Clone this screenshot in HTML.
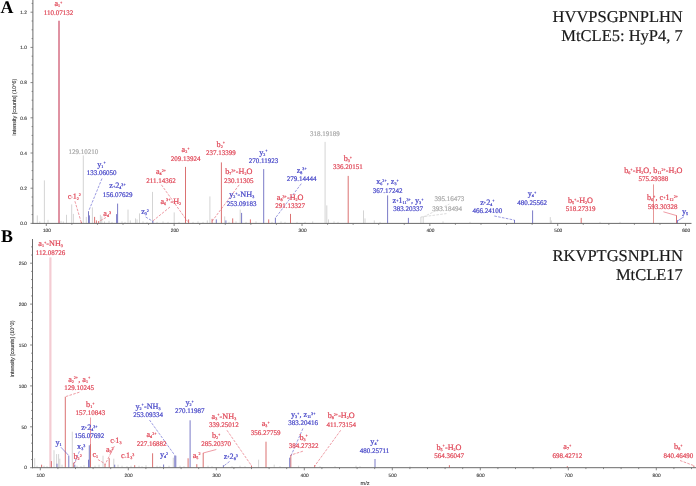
<!DOCTYPE html>
<html><head><meta charset="utf-8"><title>MS/MS spectra</title>
<style>html,body{margin:0;padding:0;background:#fff}body{width:696px;height:486px;overflow:hidden}svg{display:block}text{text-rendering:geometricPrecision;stroke-width:0.22px;font-family:"Liberation Serif",serif;font-size:7px}.s{font-family:"Liberation Sans",sans-serif;font-size:4.8px;fill:#3c3c3c;stroke:#3c3c3c;stroke-width:0.12px}.f{font-size:8.2px}.t{font-size:16.5px;fill:#1a1a1a;stroke:#1a1a1a;stroke-width:0.18px}.b{font-size:17.9px;font-weight:bold;fill:#000}</style>
</head><body>
<svg width="696" height="486" viewBox="0 0 696 486">
<defs><filter id="soft" x="0" y="0" width="696" height="486" filterUnits="userSpaceOnUse"><feGaussianBlur stdDeviation="0.32"/></filter></defs>
<rect x="0" y="0" width="696" height="486" fill="#ffffff"/>
<g filter="url(#soft)">
<g id="panelA">
<line x1="37.3" y1="223.4" x2="37.3" y2="215.4" stroke="#cfcfcf" stroke-width="0.9"/>
<line x1="39.8" y1="223.4" x2="39.8" y2="221.4" stroke="#cfcfcf" stroke-width="0.9"/>
<line x1="44.4" y1="223.4" x2="44.4" y2="180.4" stroke="#cfcfcf" stroke-width="0.9"/>
<line x1="48" y1="223.4" x2="48" y2="219.9" stroke="#cfcfcf" stroke-width="0.9"/>
<line x1="61" y1="223.4" x2="61" y2="220.9" stroke="#cfcfcf" stroke-width="0.9"/>
<line x1="63.3" y1="223.4" x2="63.3" y2="221.4" stroke="#cfcfcf" stroke-width="0.9"/>
<line x1="66.5" y1="223.4" x2="66.5" y2="214.8" stroke="#cfcfcf" stroke-width="0.9"/>
<line x1="71.7" y1="223.4" x2="71.7" y2="204.4" stroke="#cfcfcf" stroke-width="0.9"/>
<line x1="73.4" y1="223.4" x2="73.4" y2="213.9" stroke="#cfcfcf" stroke-width="0.9"/>
<line x1="83.3" y1="223.4" x2="83.3" y2="155.4" stroke="#cfcfcf" stroke-width="0.9"/>
<line x1="86.3" y1="223.4" x2="86.3" y2="216.9" stroke="#cfcfcf" stroke-width="0.9"/>
<line x1="92.4" y1="223.4" x2="92.4" y2="207.4" stroke="#cfcfcf" stroke-width="0.9"/>
<line x1="100.4" y1="223.4" x2="100.4" y2="214.8" stroke="#cfcfcf" stroke-width="0.9"/>
<line x1="101.8" y1="223.4" x2="101.8" y2="216.4" stroke="#cfcfcf" stroke-width="0.9"/>
<line x1="104.5" y1="223.4" x2="104.5" y2="221.4" stroke="#cfcfcf" stroke-width="0.9"/>
<line x1="109" y1="223.4" x2="109" y2="220.9" stroke="#cfcfcf" stroke-width="0.9"/>
<line x1="112" y1="223.4" x2="112" y2="221.9" stroke="#cfcfcf" stroke-width="0.9"/>
<line x1="122" y1="223.4" x2="122" y2="221.4" stroke="#cfcfcf" stroke-width="0.9"/>
<line x1="125" y1="223.4" x2="125" y2="221.9" stroke="#cfcfcf" stroke-width="0.9"/>
<line x1="128" y1="223.4" x2="128" y2="209.6" stroke="#cfcfcf" stroke-width="0.9"/>
<line x1="130.3" y1="223.4" x2="130.3" y2="220.4" stroke="#cfcfcf" stroke-width="0.9"/>
<line x1="135.5" y1="223.4" x2="135.5" y2="218.4" stroke="#cfcfcf" stroke-width="0.9"/>
<line x1="137" y1="223.4" x2="137" y2="219.4" stroke="#cfcfcf" stroke-width="0.9"/>
<line x1="139.5" y1="223.4" x2="139.5" y2="213.4" stroke="#cfcfcf" stroke-width="0.9"/>
<line x1="143" y1="223.4" x2="143" y2="221.4" stroke="#cfcfcf" stroke-width="0.9"/>
<line x1="147" y1="223.4" x2="147" y2="221.9" stroke="#cfcfcf" stroke-width="0.9"/>
<line x1="152.5" y1="223.4" x2="152.5" y2="191.9" stroke="#cfcfcf" stroke-width="0.9"/>
<line x1="157" y1="223.4" x2="157" y2="221.9" stroke="#cfcfcf" stroke-width="0.9"/>
<line x1="163" y1="223.4" x2="163" y2="221.4" stroke="#cfcfcf" stroke-width="0.9"/>
<line x1="168" y1="223.4" x2="168" y2="221.9" stroke="#cfcfcf" stroke-width="0.9"/>
<line x1="174.2" y1="223.4" x2="174.2" y2="212.4" stroke="#cfcfcf" stroke-width="0.9"/>
<line x1="179" y1="223.4" x2="179" y2="221.9" stroke="#cfcfcf" stroke-width="0.9"/>
<line x1="193" y1="223.4" x2="193" y2="221.9" stroke="#cfcfcf" stroke-width="0.9"/>
<line x1="198" y1="223.4" x2="198" y2="221.4" stroke="#cfcfcf" stroke-width="0.9"/>
<line x1="203" y1="223.4" x2="203" y2="221.9" stroke="#cfcfcf" stroke-width="0.9"/>
<line x1="207.3" y1="223.4" x2="207.3" y2="220.4" stroke="#cfcfcf" stroke-width="0.9"/>
<line x1="209.9" y1="223.4" x2="209.9" y2="196.4" stroke="#cfcfcf" stroke-width="0.9"/>
<line x1="224.7" y1="223.4" x2="224.7" y2="216.4" stroke="#cfcfcf" stroke-width="0.9"/>
<line x1="229" y1="223.4" x2="229" y2="221.9" stroke="#cfcfcf" stroke-width="0.9"/>
<line x1="236" y1="223.4" x2="236" y2="221.4" stroke="#cfcfcf" stroke-width="0.9"/>
<line x1="240.2" y1="223.4" x2="240.2" y2="209.6" stroke="#cfcfcf" stroke-width="0.9"/>
<line x1="246" y1="223.4" x2="246" y2="221.9" stroke="#cfcfcf" stroke-width="0.9"/>
<line x1="256" y1="223.4" x2="256" y2="221.4" stroke="#cfcfcf" stroke-width="0.9"/>
<line x1="272" y1="223.4" x2="272" y2="221.9" stroke="#cfcfcf" stroke-width="0.9"/>
<line x1="281" y1="223.4" x2="281" y2="221.4" stroke="#cfcfcf" stroke-width="0.9"/>
<line x1="285" y1="223.4" x2="285" y2="221.9" stroke="#cfcfcf" stroke-width="0.9"/>
<line x1="297" y1="223.4" x2="297" y2="221.9" stroke="#cfcfcf" stroke-width="0.9"/>
<line x1="305" y1="223.4" x2="305" y2="221.9" stroke="#cfcfcf" stroke-width="0.9"/>
<line x1="312.7" y1="223.4" x2="312.7" y2="221.4" stroke="#cfcfcf" stroke-width="0.9"/>
<line x1="325.1" y1="223.4" x2="325.1" y2="141.9" stroke="#cfcfcf" stroke-width="0.9"/>
<line x1="326.8" y1="223.4" x2="326.8" y2="205.4" stroke="#cfcfcf" stroke-width="0.9"/>
<line x1="328.5" y1="223.4" x2="328.5" y2="219.4" stroke="#cfcfcf" stroke-width="0.9"/>
<line x1="334" y1="223.4" x2="334" y2="221.4" stroke="#cfcfcf" stroke-width="0.9"/>
<line x1="338" y1="223.4" x2="338" y2="221.9" stroke="#cfcfcf" stroke-width="0.9"/>
<line x1="363.5" y1="223.4" x2="363.5" y2="210.4" stroke="#cfcfcf" stroke-width="0.9"/>
<line x1="365" y1="223.4" x2="365" y2="218.4" stroke="#cfcfcf" stroke-width="0.9"/>
<line x1="374.3" y1="223.4" x2="374.3" y2="220.4" stroke="#cfcfcf" stroke-width="0.9"/>
<line x1="380" y1="223.4" x2="380" y2="221.9" stroke="#cfcfcf" stroke-width="0.9"/>
<line x1="420.9" y1="223.4" x2="420.9" y2="216.9" stroke="#cfcfcf" stroke-width="0.9"/>
<line x1="423.2" y1="223.4" x2="423.2" y2="217.1" stroke="#cfcfcf" stroke-width="0.9"/>
<line x1="443" y1="223.4" x2="443" y2="221.4" stroke="#cfcfcf" stroke-width="0.9"/>
<line x1="470" y1="223.4" x2="470" y2="221.9" stroke="#cfcfcf" stroke-width="0.9"/>
<line x1="550.3" y1="223.4" x2="550.3" y2="217.1" stroke="#cfcfcf" stroke-width="0.9"/>
<line x1="551.3" y1="223.4" x2="551.3" y2="220.4" stroke="#cfcfcf" stroke-width="0.9"/>
<line x1="600" y1="223.4" x2="600" y2="221.9" stroke="#cfcfcf" stroke-width="0.9"/>
<line x1="620" y1="223.4" x2="620" y2="221.9" stroke="#cfcfcf" stroke-width="0.9"/>
<line x1="59" y1="223.4" x2="59" y2="20.8" stroke="#ebb0bc" stroke-width="1.7"/>
<line x1="59" y1="223.4" x2="59" y2="20.8" stroke="#d26a80" stroke-width="1"/>
<line x1="94.6" y1="223.4" x2="94.6" y2="216.9" stroke="#d96a6a" stroke-width="0.95"/>
<line x1="96.4" y1="223.4" x2="96.4" y2="220.4" stroke="#d96a6a" stroke-width="0.95"/>
<line x1="98.7" y1="223.4" x2="98.7" y2="221.4" stroke="#d96a6a" stroke-width="0.95"/>
<line x1="81.3" y1="223.4" x2="81.3" y2="221.9" stroke="#d96a6a" stroke-width="0.95"/>
<line x1="185.5" y1="223.4" x2="185.5" y2="166.9" stroke="#d96a6a" stroke-width="0.95"/>
<line x1="188.6" y1="223.4" x2="188.6" y2="219.4" stroke="#d96a6a" stroke-width="0.95"/>
<line x1="212.1" y1="223.4" x2="212.1" y2="218.9" stroke="#d96a6a" stroke-width="0.95"/>
<line x1="221.4" y1="223.4" x2="221.4" y2="162.4" stroke="#d96a6a" stroke-width="0.95"/>
<line x1="232.7" y1="223.4" x2="232.7" y2="218.4" stroke="#d96a6a" stroke-width="0.95"/>
<line x1="250.4" y1="223.4" x2="250.4" y2="219.4" stroke="#d96a6a" stroke-width="0.95"/>
<line x1="268.7" y1="223.4" x2="268.7" y2="219.4" stroke="#d96a6a" stroke-width="0.95"/>
<line x1="290.5" y1="223.4" x2="290.5" y2="213.9" stroke="#d96a6a" stroke-width="0.95"/>
<line x1="348.2" y1="223.4" x2="348.2" y2="175.9" stroke="#d96a6a" stroke-width="0.95"/>
<line x1="581.2" y1="223.4" x2="581.2" y2="217.9" stroke="#d96a6a" stroke-width="0.95"/>
<line x1="676.5" y1="223.4" x2="676.5" y2="215.4" stroke="#d96a6a" stroke-width="0.95"/>
<line x1="653.5" y1="223.4" x2="653.5" y2="184.4" stroke="#e07c7c" stroke-width="0.8"/>
<line x1="88.5" y1="223.4" x2="88.5" y2="211.2" stroke="#7474c4" stroke-width="0.95"/>
<line x1="89.4" y1="223.4" x2="89.4" y2="215.4" stroke="#7474c4" stroke-width="0.95"/>
<line x1="116.6" y1="223.4" x2="116.6" y2="214.1" stroke="#7474c4" stroke-width="0.95"/>
<line x1="117.6" y1="223.4" x2="117.6" y2="203.6" stroke="#7474c4" stroke-width="0.95"/>
<line x1="152.9" y1="223.4" x2="152.9" y2="220.9" stroke="#7474c4" stroke-width="0.95"/>
<line x1="216.3" y1="223.4" x2="216.3" y2="219.4" stroke="#7474c4" stroke-width="0.95"/>
<line x1="225.9" y1="223.4" x2="225.9" y2="220.4" stroke="#7474c4" stroke-width="0.95"/>
<line x1="241.6" y1="223.4" x2="241.6" y2="212.9" stroke="#7474c4" stroke-width="0.95"/>
<line x1="263.7" y1="223.4" x2="263.7" y2="169.1" stroke="#7474c4" stroke-width="0.95"/>
<line x1="275.4" y1="223.4" x2="275.4" y2="217.7" stroke="#7474c4" stroke-width="0.95"/>
<line x1="387.6" y1="223.4" x2="387.6" y2="195.4" stroke="#7474c4" stroke-width="0.95"/>
<line x1="408.4" y1="223.4" x2="408.4" y2="217.9" stroke="#7474c4" stroke-width="0.95"/>
<line x1="514.5" y1="223.4" x2="514.5" y2="220" stroke="#7474c4" stroke-width="0.95"/>
<line x1="532.6" y1="223.4" x2="532.6" y2="210.4" stroke="#7474c4" stroke-width="0.95"/>
<line x1="677.4" y1="223.4" x2="677.4" y2="220.1" stroke="#7474c4" stroke-width="0.95"/>
<line x1="32.9" y1="0" x2="32.9" y2="223.9" stroke="#6a6a6a" stroke-width="1"/>
<line x1="32.4" y1="223.4" x2="691.5" y2="223.4" stroke="#6a6a6a" stroke-width="1"/>
<line x1="30.5" y1="223.4" x2="32.9" y2="223.4" stroke="#6a6a6a" stroke-width="0.8"/>
<text class="s" x="26.8" y="225.1" text-anchor="end">0.0</text>
<line x1="31.6" y1="214.6" x2="32.9" y2="214.6" stroke="#6a6a6a" stroke-width="0.8"/>
<line x1="31.6" y1="205.8" x2="32.9" y2="205.8" stroke="#6a6a6a" stroke-width="0.8"/>
<line x1="31.6" y1="197" x2="32.9" y2="197" stroke="#6a6a6a" stroke-width="0.8"/>
<line x1="30.5" y1="188.2" x2="32.9" y2="188.2" stroke="#6a6a6a" stroke-width="0.8"/>
<text class="s" x="26.8" y="189.9" text-anchor="end">0.2</text>
<line x1="31.6" y1="179.4" x2="32.9" y2="179.4" stroke="#6a6a6a" stroke-width="0.8"/>
<line x1="31.6" y1="170.6" x2="32.9" y2="170.6" stroke="#6a6a6a" stroke-width="0.8"/>
<line x1="31.6" y1="161.8" x2="32.9" y2="161.8" stroke="#6a6a6a" stroke-width="0.8"/>
<line x1="30.5" y1="153" x2="32.9" y2="153" stroke="#6a6a6a" stroke-width="0.8"/>
<text class="s" x="26.8" y="154.7" text-anchor="end">0.4</text>
<line x1="31.6" y1="144.2" x2="32.9" y2="144.2" stroke="#6a6a6a" stroke-width="0.8"/>
<line x1="31.6" y1="135.4" x2="32.9" y2="135.4" stroke="#6a6a6a" stroke-width="0.8"/>
<line x1="31.6" y1="126.6" x2="32.9" y2="126.6" stroke="#6a6a6a" stroke-width="0.8"/>
<line x1="30.5" y1="117.8" x2="32.9" y2="117.8" stroke="#6a6a6a" stroke-width="0.8"/>
<text class="s" x="26.8" y="119.5" text-anchor="end">0.6</text>
<line x1="31.6" y1="109" x2="32.9" y2="109" stroke="#6a6a6a" stroke-width="0.8"/>
<line x1="31.6" y1="100.2" x2="32.9" y2="100.2" stroke="#6a6a6a" stroke-width="0.8"/>
<line x1="31.6" y1="91.4" x2="32.9" y2="91.4" stroke="#6a6a6a" stroke-width="0.8"/>
<line x1="30.5" y1="82.6" x2="32.9" y2="82.6" stroke="#6a6a6a" stroke-width="0.8"/>
<text class="s" x="26.8" y="84.3" text-anchor="end">0.8</text>
<line x1="31.6" y1="73.8" x2="32.9" y2="73.8" stroke="#6a6a6a" stroke-width="0.8"/>
<line x1="31.6" y1="65" x2="32.9" y2="65" stroke="#6a6a6a" stroke-width="0.8"/>
<line x1="31.6" y1="56.2" x2="32.9" y2="56.2" stroke="#6a6a6a" stroke-width="0.8"/>
<line x1="30.5" y1="47.4" x2="32.9" y2="47.4" stroke="#6a6a6a" stroke-width="0.8"/>
<text class="s" x="26.8" y="49.1" text-anchor="end">1.0</text>
<line x1="31.6" y1="38.6" x2="32.9" y2="38.6" stroke="#6a6a6a" stroke-width="0.8"/>
<line x1="31.6" y1="29.8" x2="32.9" y2="29.8" stroke="#6a6a6a" stroke-width="0.8"/>
<line x1="31.6" y1="21" x2="32.9" y2="21" stroke="#6a6a6a" stroke-width="0.8"/>
<line x1="30.5" y1="12.2" x2="32.9" y2="12.2" stroke="#6a6a6a" stroke-width="0.8"/>
<text class="s" x="26.8" y="13.9" text-anchor="end">1.2</text>
<line x1="31.6" y1="3.4" x2="32.9" y2="3.4" stroke="#6a6a6a" stroke-width="0.8"/>
<line x1="46.3" y1="223.4" x2="46.3" y2="226" stroke="#6a6a6a" stroke-width="0.8"/>
<text class="s" x="46.9" y="232.3" text-anchor="middle">100</text>
<line x1="71.87" y1="223.4" x2="71.87" y2="224.8" stroke="#6a6a6a" stroke-width="0.8"/>
<line x1="97.44" y1="223.4" x2="97.44" y2="224.8" stroke="#6a6a6a" stroke-width="0.8"/>
<line x1="123.01" y1="223.4" x2="123.01" y2="224.8" stroke="#6a6a6a" stroke-width="0.8"/>
<line x1="148.58" y1="223.4" x2="148.58" y2="224.8" stroke="#6a6a6a" stroke-width="0.8"/>
<line x1="174.15" y1="223.4" x2="174.15" y2="226" stroke="#6a6a6a" stroke-width="0.8"/>
<text class="s" x="174.75" y="232.3" text-anchor="middle">200</text>
<line x1="199.72" y1="223.4" x2="199.72" y2="224.8" stroke="#6a6a6a" stroke-width="0.8"/>
<line x1="225.29" y1="223.4" x2="225.29" y2="224.8" stroke="#6a6a6a" stroke-width="0.8"/>
<line x1="250.86" y1="223.4" x2="250.86" y2="224.8" stroke="#6a6a6a" stroke-width="0.8"/>
<line x1="276.43" y1="223.4" x2="276.43" y2="224.8" stroke="#6a6a6a" stroke-width="0.8"/>
<line x1="302" y1="223.4" x2="302" y2="226" stroke="#6a6a6a" stroke-width="0.8"/>
<text class="s" x="302.6" y="232.3" text-anchor="middle">300</text>
<line x1="327.57" y1="223.4" x2="327.57" y2="224.8" stroke="#6a6a6a" stroke-width="0.8"/>
<line x1="353.14" y1="223.4" x2="353.14" y2="224.8" stroke="#6a6a6a" stroke-width="0.8"/>
<line x1="378.71" y1="223.4" x2="378.71" y2="224.8" stroke="#6a6a6a" stroke-width="0.8"/>
<line x1="404.28" y1="223.4" x2="404.28" y2="224.8" stroke="#6a6a6a" stroke-width="0.8"/>
<line x1="429.85" y1="223.4" x2="429.85" y2="226" stroke="#6a6a6a" stroke-width="0.8"/>
<text class="s" x="430.45" y="232.3" text-anchor="middle">400</text>
<line x1="455.42" y1="223.4" x2="455.42" y2="224.8" stroke="#6a6a6a" stroke-width="0.8"/>
<line x1="480.99" y1="223.4" x2="480.99" y2="224.8" stroke="#6a6a6a" stroke-width="0.8"/>
<line x1="506.56" y1="223.4" x2="506.56" y2="224.8" stroke="#6a6a6a" stroke-width="0.8"/>
<line x1="532.13" y1="223.4" x2="532.13" y2="224.8" stroke="#6a6a6a" stroke-width="0.8"/>
<line x1="557.7" y1="223.4" x2="557.7" y2="226" stroke="#6a6a6a" stroke-width="0.8"/>
<text class="s" x="558.3" y="232.3" text-anchor="middle">500</text>
<line x1="583.27" y1="223.4" x2="583.27" y2="224.8" stroke="#6a6a6a" stroke-width="0.8"/>
<line x1="608.84" y1="223.4" x2="608.84" y2="224.8" stroke="#6a6a6a" stroke-width="0.8"/>
<line x1="634.41" y1="223.4" x2="634.41" y2="224.8" stroke="#6a6a6a" stroke-width="0.8"/>
<line x1="659.98" y1="223.4" x2="659.98" y2="224.8" stroke="#6a6a6a" stroke-width="0.8"/>
<line x1="685.55" y1="223.4" x2="685.55" y2="226" stroke="#6a6a6a" stroke-width="0.8"/>
<text class="s" x="686.15" y="232.3" text-anchor="middle">600</text>
<text class="s" style="font-size:5.4px" transform="translate(15.7,107.3) rotate(-90)" text-anchor="middle">Intensity [counts] (10^6)</text>
<line x1="102" y1="178.5" x2="88.9" y2="210.5" stroke="#4848c8" stroke-width="0.55" stroke-dasharray="2.6 1.3"/>
<line x1="74.9" y1="201.2" x2="81.3" y2="222.5" stroke="#e04a5a" stroke-width="0.55" stroke-dasharray="2.6 1.3"/>
<line x1="106" y1="217.5" x2="98" y2="222" stroke="#e04a5a" stroke-width="0.55" stroke-dasharray="2.6 1.3"/>
<line x1="145.7" y1="217" x2="152.7" y2="221.3" stroke="#4848c8" stroke-width="0.55" stroke-dasharray="2.6 1.3"/>
<line x1="161.4" y1="184.8" x2="187.6" y2="221.5" stroke="#e04a5a" stroke-width="0.55" stroke-dasharray="2.6 1.3"/>
<line x1="170" y1="207" x2="153" y2="220.8" stroke="#e04a5a" stroke-width="0.55" stroke-dasharray="2.6 1.3"/>
<line x1="239.2" y1="184.8" x2="212.1" y2="221.3" stroke="#e04a5a" stroke-width="0.55" stroke-dasharray="2.6 1.3"/>
<line x1="301.3" y1="183.7" x2="275.4" y2="218" stroke="#4848c8" stroke-width="0.55" stroke-dasharray="2.6 1.3"/>
<line x1="423.2" y1="217" x2="449.5" y2="204" stroke="#c0c0c0" stroke-width="0.55" stroke-dasharray="2.6 1.3"/>
<line x1="420.9" y1="217" x2="446.5" y2="213.6" stroke="#c0c0c0" stroke-width="0.55" stroke-dasharray="2.6 1.3"/>
<line x1="494.3" y1="216" x2="514.5" y2="220.1" stroke="#4848c8" stroke-width="0.55" stroke-dasharray="2.6 1.3"/>
<line x1="663.4" y1="211.8" x2="676.6" y2="215.6" stroke="#e04a5a" stroke-width="0.55"/>
<line x1="684" y1="216.7" x2="677.6" y2="220.9" stroke="#4848c8" stroke-width="0.55"/>
<text class="f" x="58.4" y="6.3" fill="#e04a5a" stroke="#e04a5a" text-anchor="middle"><tspan>a</tspan><tspan dy="1" font-size="4.1">1</tspan><tspan dy="-3.4" font-size="4.1">+</tspan></text>
<text x="58.4" y="14.7" fill="#e04a5a" stroke="#e04a5a" text-anchor="middle">110.07132</text>
<text x="83.3" y="153.6" fill="#ababab" stroke="#ababab" text-anchor="middle">129.10210</text>
<text class="f" x="101.5" y="166.6" fill="#4848c8" stroke="#4848c8" text-anchor="middle"><tspan>y</tspan><tspan dy="1" font-size="4.1">1</tspan><tspan dy="-3.4" font-size="4.1">+</tspan></text>
<text x="101.5" y="175" fill="#4848c8" stroke="#4848c8" text-anchor="middle">133.06050</text>
<text class="f" x="117.5" y="188.4" fill="#4848c8" stroke="#4848c8" text-anchor="middle"><tspan>z</tspan><tspan dy="-0.7" font-size="4.1">+</tspan><tspan dy="0.7">2</tspan><tspan dy="1" font-size="4.1">4</tspan><tspan dy="-3.4" font-size="4.1">3+</tspan></text>
<text x="117.5" y="196.8" fill="#4848c8" stroke="#4848c8" text-anchor="middle">156.07629</text>
<text class="f" x="74.3" y="198.6" fill="#e04a5a" stroke="#e04a5a" text-anchor="middle"><tspan>c</tspan><tspan dy="-0.7" font-size="4.1">-</tspan><tspan dy="0.7">1</tspan><tspan dy="1" font-size="4.1">2</tspan><tspan dy="-3.4" font-size="4.1">2</tspan></text>
<text class="f" x="107.2" y="216" fill="#e04a5a" stroke="#e04a5a" text-anchor="middle"><tspan>a</tspan><tspan dy="1" font-size="4.1">4</tspan><tspan dy="-3.4" font-size="4.1">3</tspan></text>
<text class="f" x="145" y="214.3" fill="#4848c8" stroke="#4848c8" text-anchor="middle"><tspan>z</tspan><tspan dy="1" font-size="4.1">3</tspan><tspan dy="-3.4" font-size="4.1">2</tspan></text>
<text class="f" x="161" y="174.1" fill="#e04a5a" stroke="#e04a5a" text-anchor="middle"><tspan>a</tspan><tspan dy="1" font-size="4.1">4</tspan><tspan dy="-3.4" font-size="4.1">2+</tspan></text>
<text x="161" y="182.5" fill="#e04a5a" stroke="#e04a5a" text-anchor="middle">211.14362</text>
<text class="f" x="170.8" y="203.8" fill="#e04a5a" stroke="#e04a5a" text-anchor="middle"><tspan>a</tspan><tspan dy="1" font-size="4.1">6</tspan><tspan dy="-3.4" font-size="4.1">3+</tspan><tspan dy="2.4">-H</tspan><tspan dy="1" font-size="4.1">2</tspan></text>
<text class="f" x="185.5" y="152.1" fill="#e04a5a" stroke="#e04a5a" text-anchor="middle"><tspan>a</tspan><tspan dy="1" font-size="4.1">2</tspan><tspan dy="-3.4" font-size="4.1">+</tspan></text>
<text x="185.5" y="160.5" fill="#e04a5a" stroke="#e04a5a" text-anchor="middle">209.13924</text>
<text class="f" x="220.8" y="146.8" fill="#e04a5a" stroke="#e04a5a" text-anchor="middle"><tspan>b</tspan><tspan dy="1" font-size="4.1">2</tspan><tspan dy="-3.4" font-size="4.1">+</tspan></text>
<text x="220.8" y="155.2" fill="#e04a5a" stroke="#e04a5a" text-anchor="middle">237.13399</text>
<text class="f" x="238.8" y="174.1" fill="#e04a5a" stroke="#e04a5a" text-anchor="middle"><tspan>b</tspan><tspan dy="1" font-size="4.1">7</tspan><tspan dy="-3.4" font-size="4.1">3+</tspan><tspan dy="2.4">-H</tspan><tspan dy="1" font-size="4.1">2</tspan><tspan dy="-1">O</tspan></text>
<text x="238.8" y="182.5" fill="#e04a5a" stroke="#e04a5a" text-anchor="middle">230.11305</text>
<text class="f" x="241.7" y="197.2" fill="#4848c8" stroke="#4848c8" text-anchor="middle"><tspan>y</tspan><tspan dy="1" font-size="4.1">2</tspan><tspan dy="-3.4" font-size="4.1">+</tspan><tspan dy="2.4">-NH</tspan><tspan dy="1" font-size="4.1">3</tspan></text>
<text x="241.7" y="205.6" fill="#4848c8" stroke="#4848c8" text-anchor="middle">253.09183</text>
<text class="f" x="263.4" y="154.6" fill="#4848c8" stroke="#4848c8" text-anchor="middle"><tspan>y</tspan><tspan dy="1" font-size="4.1">2</tspan><tspan dy="-3.4" font-size="4.1">+</tspan></text>
<text x="263.4" y="163" fill="#4848c8" stroke="#4848c8" text-anchor="middle">270.11923</text>
<text class="f" x="301.7" y="172.6" fill="#4848c8" stroke="#4848c8" text-anchor="middle"><tspan>z</tspan><tspan dy="1" font-size="4.1">8</tspan><tspan dy="-3.4" font-size="4.1">3+</tspan></text>
<text x="301.7" y="181" fill="#4848c8" stroke="#4848c8" text-anchor="middle">279.14444</text>
<text class="f" x="290.2" y="200" fill="#e04a5a" stroke="#e04a5a" text-anchor="middle"><tspan>a</tspan><tspan dy="1" font-size="4.1">8</tspan><tspan dy="-3.4" font-size="4.1">3+</tspan><tspan dy="2.4">-H</tspan><tspan dy="1" font-size="4.1">2</tspan><tspan dy="-1">O</tspan></text>
<text x="290.2" y="208.4" fill="#e04a5a" stroke="#e04a5a" text-anchor="middle">291.13327</text>
<text x="324.9" y="135.7" fill="#ababab" stroke="#ababab" text-anchor="middle">318.19189</text>
<text class="f" x="347.9" y="160.9" fill="#e04a5a" stroke="#e04a5a" text-anchor="middle"><tspan>b</tspan><tspan dy="1" font-size="4.1">3</tspan><tspan dy="-3.4" font-size="4.1">+</tspan></text>
<text x="347.9" y="169.3" fill="#e04a5a" stroke="#e04a5a" text-anchor="middle">336.20151</text>
<text class="f" x="387.5" y="184.3" fill="#4848c8" stroke="#4848c8" text-anchor="middle"><tspan>x</tspan><tspan dy="1" font-size="4.1">6</tspan><tspan dy="-3.4" font-size="4.1">2+</tspan><tspan dy="2.4">, z</tspan><tspan dy="1" font-size="4.1">3</tspan><tspan dy="-3.4" font-size="4.1">+</tspan></text>
<text x="387.5" y="192.7" fill="#4848c8" stroke="#4848c8" text-anchor="middle">367.17242</text>
<text class="f" x="408" y="203" fill="#4848c8" stroke="#4848c8" text-anchor="middle"><tspan>z</tspan><tspan dy="-0.7" font-size="4.1">+</tspan><tspan dy="0.7">1</tspan><tspan dy="1" font-size="4.1">11</tspan><tspan dy="-3.4" font-size="4.1">3+</tspan><tspan dy="2.4">, y</tspan><tspan dy="1" font-size="4.1">3</tspan><tspan dy="-3.4" font-size="4.1">+</tspan></text>
<text x="408" y="211.4" fill="#4848c8" stroke="#4848c8" text-anchor="middle">383.20337</text>
<text x="449.4" y="200.5" fill="#ababab" stroke="#ababab" text-anchor="middle">395.16473</text>
<text x="447" y="210.8" fill="#ababab" stroke="#ababab" text-anchor="middle">393.18494</text>
<text class="f" x="487.4" y="204.5" fill="#4848c8" stroke="#4848c8" text-anchor="middle"><tspan>z</tspan><tspan dy="-0.7" font-size="4.1">+</tspan><tspan dy="0.7">2</tspan><tspan dy="1" font-size="4.1">4</tspan><tspan dy="-3.4" font-size="4.1">+</tspan></text>
<text x="487.4" y="212.9" fill="#4848c8" stroke="#4848c8" text-anchor="middle">466.24100</text>
<text class="f" x="532" y="196.4" fill="#4848c8" stroke="#4848c8" text-anchor="middle"><tspan>y</tspan><tspan dy="1" font-size="4.1">4</tspan><tspan dy="-3.4" font-size="4.1">+</tspan></text>
<text x="532" y="204.8" fill="#4848c8" stroke="#4848c8" text-anchor="middle">480.25562</text>
<text class="f" x="580.5" y="203" fill="#e04a5a" stroke="#e04a5a" text-anchor="middle"><tspan>b</tspan><tspan dy="1" font-size="4.1">5</tspan><tspan dy="-3.4" font-size="4.1">+</tspan><tspan dy="2.4">-H</tspan><tspan dy="1" font-size="4.1">2</tspan><tspan dy="-1">O</tspan></text>
<text x="580.5" y="211.4" fill="#e04a5a" stroke="#e04a5a" text-anchor="middle">518.27319</text>
<text class="f" x="653.3" y="172.9" fill="#e04a5a" stroke="#e04a5a" text-anchor="middle"><tspan>b</tspan><tspan dy="1" font-size="4.1">6</tspan><tspan dy="-3.4" font-size="4.1">+</tspan><tspan dy="2.4">-H</tspan><tspan dy="1" font-size="4.1">2</tspan><tspan dy="-1">O, b</tspan><tspan dy="1" font-size="4.1">11</tspan><tspan dy="-3.4" font-size="4.1">2+</tspan><tspan dy="2.4">-H</tspan><tspan dy="1" font-size="4.1">2</tspan><tspan dy="-1">O</tspan></text>
<text x="653.3" y="181.3" fill="#e04a5a" stroke="#e04a5a" text-anchor="middle">575.29388</text>
<text class="f" x="662.5" y="200.1" fill="#e04a5a" stroke="#e04a5a" text-anchor="middle"><tspan>b</tspan><tspan dy="1" font-size="4.1">6</tspan><tspan dy="-3.4" font-size="4.1">+</tspan><tspan dy="2.4">, c</tspan><tspan dy="-0.7" font-size="4.1">+</tspan><tspan dy="0.7">1</tspan><tspan dy="1" font-size="4.1">12</tspan><tspan dy="-3.4" font-size="4.1">2+</tspan></text>
<text x="662.5" y="208.5" fill="#e04a5a" stroke="#e04a5a" text-anchor="middle">593.30328</text>
<text class="f" x="685" y="213.5" fill="#4848c8" stroke="#4848c8" text-anchor="middle"><tspan>y</tspan><tspan dy="1" font-size="4.1">5</tspan></text>
<text class="b" x="0.6" y="13.0">A</text>
<text class="t" x="682.8" y="22.2" text-anchor="end">HVVPSGPNPLHN</text>
<text class="t" x="682.8" y="41" text-anchor="end">MtCLE5: HyP4, 7</text>
</g>
<g id="panelB">
<line x1="34.7" y1="467.7" x2="34.7" y2="458.2" stroke="#cfcfcf" stroke-width="0.9"/>
<line x1="37" y1="467.7" x2="37" y2="465.7" stroke="#cfcfcf" stroke-width="0.9"/>
<line x1="44" y1="467.7" x2="44" y2="465.7" stroke="#cfcfcf" stroke-width="0.9"/>
<line x1="47" y1="467.7" x2="47" y2="466.2" stroke="#cfcfcf" stroke-width="0.9"/>
<line x1="54" y1="467.7" x2="54" y2="450.2" stroke="#cfcfcf" stroke-width="0.9"/>
<line x1="56.6" y1="467.7" x2="56.6" y2="454.1" stroke="#cfcfcf" stroke-width="0.9"/>
<line x1="58.6" y1="467.7" x2="58.6" y2="454.1" stroke="#cfcfcf" stroke-width="0.9"/>
<line x1="59.8" y1="467.7" x2="59.8" y2="458.7" stroke="#cfcfcf" stroke-width="0.9"/>
<line x1="62" y1="467.7" x2="62" y2="464.7" stroke="#cfcfcf" stroke-width="0.9"/>
<line x1="72.3" y1="467.7" x2="72.3" y2="431.7" stroke="#cfcfcf" stroke-width="0.9"/>
<line x1="77" y1="467.7" x2="77" y2="465.7" stroke="#cfcfcf" stroke-width="0.9"/>
<line x1="81" y1="467.7" x2="81" y2="466.2" stroke="#cfcfcf" stroke-width="0.9"/>
<line x1="84" y1="467.7" x2="84" y2="465.2" stroke="#cfcfcf" stroke-width="0.9"/>
<line x1="95" y1="467.7" x2="95" y2="465.7" stroke="#cfcfcf" stroke-width="0.9"/>
<line x1="99" y1="467.7" x2="99" y2="464.7" stroke="#cfcfcf" stroke-width="0.9"/>
<line x1="103" y1="467.7" x2="103" y2="455.7" stroke="#cfcfcf" stroke-width="0.9"/>
<line x1="113.8" y1="467.7" x2="113.8" y2="458.7" stroke="#cfcfcf" stroke-width="0.9"/>
<line x1="118" y1="467.7" x2="118" y2="464.7" stroke="#cfcfcf" stroke-width="0.9"/>
<line x1="122" y1="467.7" x2="122" y2="465.7" stroke="#cfcfcf" stroke-width="0.9"/>
<line x1="127" y1="467.7" x2="127" y2="466.2" stroke="#cfcfcf" stroke-width="0.9"/>
<line x1="131" y1="467.7" x2="131" y2="465.7" stroke="#cfcfcf" stroke-width="0.9"/>
<line x1="139" y1="467.7" x2="139" y2="465.7" stroke="#cfcfcf" stroke-width="0.9"/>
<line x1="142" y1="467.7" x2="142" y2="466.2" stroke="#cfcfcf" stroke-width="0.9"/>
<line x1="146" y1="467.7" x2="146" y2="465.2" stroke="#cfcfcf" stroke-width="0.9"/>
<line x1="157" y1="467.7" x2="157" y2="465.7" stroke="#cfcfcf" stroke-width="0.9"/>
<line x1="160" y1="467.7" x2="160" y2="466.2" stroke="#cfcfcf" stroke-width="0.9"/>
<line x1="169" y1="467.7" x2="169" y2="465.7" stroke="#cfcfcf" stroke-width="0.9"/>
<line x1="173.3" y1="467.7" x2="173.3" y2="457.7" stroke="#cfcfcf" stroke-width="0.9"/>
<line x1="180" y1="467.7" x2="180" y2="465.7" stroke="#cfcfcf" stroke-width="0.9"/>
<line x1="184" y1="467.7" x2="184" y2="466.2" stroke="#cfcfcf" stroke-width="0.9"/>
<line x1="208" y1="467.7" x2="208" y2="465.7" stroke="#cfcfcf" stroke-width="0.9"/>
<line x1="212" y1="467.7" x2="212" y2="466.2" stroke="#cfcfcf" stroke-width="0.9"/>
<line x1="232" y1="467.7" x2="232" y2="466.2" stroke="#cfcfcf" stroke-width="0.9"/>
<line x1="240" y1="467.7" x2="240" y2="465.7" stroke="#cfcfcf" stroke-width="0.9"/>
<line x1="245" y1="467.7" x2="245" y2="466.2" stroke="#cfcfcf" stroke-width="0.9"/>
<line x1="258.6" y1="467.7" x2="258.6" y2="459.7" stroke="#cfcfcf" stroke-width="0.9"/>
<line x1="274.2" y1="467.7" x2="274.2" y2="464.7" stroke="#cfcfcf" stroke-width="0.9"/>
<line x1="280" y1="467.7" x2="280" y2="466.2" stroke="#cfcfcf" stroke-width="0.9"/>
<line x1="298.6" y1="467.7" x2="298.6" y2="465.7" stroke="#cfcfcf" stroke-width="0.9"/>
<line x1="320" y1="467.7" x2="320" y2="466.2" stroke="#cfcfcf" stroke-width="0.9"/>
<line x1="335" y1="467.7" x2="335" y2="466.2" stroke="#cfcfcf" stroke-width="0.9"/>
<line x1="356" y1="467.7" x2="356" y2="465.7" stroke="#cfcfcf" stroke-width="0.9"/>
<line x1="360" y1="467.7" x2="360" y2="466.2" stroke="#cfcfcf" stroke-width="0.9"/>
<line x1="410" y1="467.7" x2="410" y2="466.5" stroke="#cfcfcf" stroke-width="0.9"/>
<line x1="50.4" y1="467.7" x2="50.4" y2="257.4" stroke="#f4ccd3" stroke-width="2.2"/>
<line x1="51.4" y1="467.7" x2="51.4" y2="461.1" stroke="#d96a6a" stroke-width="0.95"/>
<line x1="41.6" y1="467.7" x2="41.6" y2="464.7" stroke="#d96a6a" stroke-width="0.95"/>
<line x1="65.3" y1="467.7" x2="65.3" y2="396.7" stroke="#d96a6a" stroke-width="0.95"/>
<line x1="73.7" y1="467.7" x2="73.7" y2="462.7" stroke="#d96a6a" stroke-width="0.95"/>
<line x1="90.5" y1="467.7" x2="90.5" y2="443.7" stroke="#d96a6a" stroke-width="0.95"/>
<line x1="105" y1="467.7" x2="105" y2="464.2" stroke="#d96a6a" stroke-width="0.95"/>
<line x1="109.2" y1="467.7" x2="109.2" y2="458.2" stroke="#d96a6a" stroke-width="0.95"/>
<line x1="134.7" y1="467.7" x2="134.7" y2="465.2" stroke="#d96a6a" stroke-width="0.95"/>
<line x1="152.6" y1="467.7" x2="152.6" y2="453.3" stroke="#d96a6a" stroke-width="0.95"/>
<line x1="188.1" y1="467.7" x2="188.1" y2="458.3" stroke="#d96a6a" stroke-width="0.95"/>
<line x1="196.8" y1="467.7" x2="196.8" y2="464.2" stroke="#d96a6a" stroke-width="0.95"/>
<line x1="203.2" y1="467.7" x2="203.2" y2="452.9" stroke="#d96a6a" stroke-width="0.95"/>
<line x1="251.5" y1="467.7" x2="251.5" y2="465.7" stroke="#d96a6a" stroke-width="0.95"/>
<line x1="266" y1="467.7" x2="266" y2="441.7" stroke="#d96a6a" stroke-width="0.95"/>
<line x1="290.8" y1="467.7" x2="290.8" y2="454.9" stroke="#d96a6a" stroke-width="0.95"/>
<line x1="314.7" y1="467.7" x2="314.7" y2="465.2" stroke="#d96a6a" stroke-width="0.95"/>
<line x1="449.4" y1="467.7" x2="449.4" y2="465.2" stroke="#d96a6a" stroke-width="0.95"/>
<line x1="567.3" y1="467.7" x2="567.3" y2="466.2" stroke="#d96a6a" stroke-width="0.95"/>
<line x1="693.9" y1="467.7" x2="693.9" y2="465.7" stroke="#d96a6a" stroke-width="0.95"/>
<line x1="57" y1="467.7" x2="57" y2="463.7" stroke="#7474c4" stroke-width="0.95"/>
<line x1="68.8" y1="467.7" x2="68.8" y2="455.9" stroke="#7474c4" stroke-width="0.95"/>
<line x1="74.8" y1="467.7" x2="74.8" y2="464.7" stroke="#7474c4" stroke-width="0.95"/>
<line x1="89.3" y1="467.7" x2="89.3" y2="445.3" stroke="#7474c4" stroke-width="0.95"/>
<line x1="88.5" y1="467.7" x2="88.5" y2="459.7" stroke="#7474c4" stroke-width="0.95"/>
<line x1="114.7" y1="467.7" x2="114.7" y2="464.7" stroke="#7474c4" stroke-width="0.95"/>
<line x1="163.6" y1="467.7" x2="163.6" y2="464.5" stroke="#7474c4" stroke-width="0.95"/>
<line x1="174.8" y1="467.7" x2="174.8" y2="455.7" stroke="#7474c4" stroke-width="0.95"/>
<line x1="175.8" y1="467.7" x2="175.8" y2="455.7" stroke="#7474c4" stroke-width="0.95"/>
<line x1="190.1" y1="467.7" x2="190.1" y2="420.3" stroke="#7474c4" stroke-width="0.95"/>
<line x1="223.4" y1="467.7" x2="223.4" y2="465.2" stroke="#7474c4" stroke-width="0.95"/>
<line x1="289.7" y1="467.7" x2="289.7" y2="457.7" stroke="#7474c4" stroke-width="0.95"/>
<line x1="375" y1="467.7" x2="375" y2="459" stroke="#7474c4" stroke-width="0.95"/>
<line x1="32.5" y1="239" x2="32.5" y2="468.2" stroke="#6a6a6a" stroke-width="1"/>
<line x1="32" y1="467.7" x2="696" y2="467.7" stroke="#6a6a6a" stroke-width="1"/>
<line x1="30.1" y1="467.7" x2="32.5" y2="467.7" stroke="#6a6a6a" stroke-width="0.8"/>
<text class="s" x="26.8" y="469.4" text-anchor="end">0</text>
<line x1="31.2" y1="459.52" x2="32.5" y2="459.52" stroke="#6a6a6a" stroke-width="0.8"/>
<line x1="31.2" y1="451.34" x2="32.5" y2="451.34" stroke="#6a6a6a" stroke-width="0.8"/>
<line x1="31.2" y1="443.16" x2="32.5" y2="443.16" stroke="#6a6a6a" stroke-width="0.8"/>
<line x1="31.2" y1="434.98" x2="32.5" y2="434.98" stroke="#6a6a6a" stroke-width="0.8"/>
<line x1="30.1" y1="426.8" x2="32.5" y2="426.8" stroke="#6a6a6a" stroke-width="0.8"/>
<text class="s" x="26.8" y="428.5" text-anchor="end">50</text>
<line x1="31.2" y1="418.62" x2="32.5" y2="418.62" stroke="#6a6a6a" stroke-width="0.8"/>
<line x1="31.2" y1="410.44" x2="32.5" y2="410.44" stroke="#6a6a6a" stroke-width="0.8"/>
<line x1="31.2" y1="402.26" x2="32.5" y2="402.26" stroke="#6a6a6a" stroke-width="0.8"/>
<line x1="31.2" y1="394.08" x2="32.5" y2="394.08" stroke="#6a6a6a" stroke-width="0.8"/>
<line x1="30.1" y1="385.9" x2="32.5" y2="385.9" stroke="#6a6a6a" stroke-width="0.8"/>
<text class="s" x="26.8" y="387.6" text-anchor="end">100</text>
<line x1="31.2" y1="377.72" x2="32.5" y2="377.72" stroke="#6a6a6a" stroke-width="0.8"/>
<line x1="31.2" y1="369.54" x2="32.5" y2="369.54" stroke="#6a6a6a" stroke-width="0.8"/>
<line x1="31.2" y1="361.36" x2="32.5" y2="361.36" stroke="#6a6a6a" stroke-width="0.8"/>
<line x1="31.2" y1="353.18" x2="32.5" y2="353.18" stroke="#6a6a6a" stroke-width="0.8"/>
<line x1="30.1" y1="345" x2="32.5" y2="345" stroke="#6a6a6a" stroke-width="0.8"/>
<text class="s" x="26.8" y="346.7" text-anchor="end">150</text>
<line x1="31.2" y1="336.82" x2="32.5" y2="336.82" stroke="#6a6a6a" stroke-width="0.8"/>
<line x1="31.2" y1="328.64" x2="32.5" y2="328.64" stroke="#6a6a6a" stroke-width="0.8"/>
<line x1="31.2" y1="320.46" x2="32.5" y2="320.46" stroke="#6a6a6a" stroke-width="0.8"/>
<line x1="31.2" y1="312.28" x2="32.5" y2="312.28" stroke="#6a6a6a" stroke-width="0.8"/>
<line x1="30.1" y1="304.1" x2="32.5" y2="304.1" stroke="#6a6a6a" stroke-width="0.8"/>
<text class="s" x="26.8" y="305.8" text-anchor="end">200</text>
<line x1="31.2" y1="295.92" x2="32.5" y2="295.92" stroke="#6a6a6a" stroke-width="0.8"/>
<line x1="31.2" y1="287.74" x2="32.5" y2="287.74" stroke="#6a6a6a" stroke-width="0.8"/>
<line x1="31.2" y1="279.56" x2="32.5" y2="279.56" stroke="#6a6a6a" stroke-width="0.8"/>
<line x1="31.2" y1="271.38" x2="32.5" y2="271.38" stroke="#6a6a6a" stroke-width="0.8"/>
<line x1="30.1" y1="263.2" x2="32.5" y2="263.2" stroke="#6a6a6a" stroke-width="0.8"/>
<text class="s" x="26.8" y="264.9" text-anchor="end">250</text>
<line x1="31.2" y1="255.02" x2="32.5" y2="255.02" stroke="#6a6a6a" stroke-width="0.8"/>
<line x1="31.2" y1="246.84" x2="32.5" y2="246.84" stroke="#6a6a6a" stroke-width="0.8"/>
<line x1="40.3" y1="467.7" x2="40.3" y2="470.3" stroke="#6a6a6a" stroke-width="0.8"/>
<text class="s" x="40.6" y="477" text-anchor="middle">100</text>
<line x1="57.9" y1="467.7" x2="57.9" y2="469.1" stroke="#6a6a6a" stroke-width="0.8"/>
<line x1="75.5" y1="467.7" x2="75.5" y2="469.1" stroke="#6a6a6a" stroke-width="0.8"/>
<line x1="93.1" y1="467.7" x2="93.1" y2="469.1" stroke="#6a6a6a" stroke-width="0.8"/>
<line x1="110.7" y1="467.7" x2="110.7" y2="469.1" stroke="#6a6a6a" stroke-width="0.8"/>
<line x1="128.3" y1="467.7" x2="128.3" y2="470.3" stroke="#6a6a6a" stroke-width="0.8"/>
<text class="s" x="128.6" y="477" text-anchor="middle">200</text>
<line x1="145.9" y1="467.7" x2="145.9" y2="469.1" stroke="#6a6a6a" stroke-width="0.8"/>
<line x1="163.5" y1="467.7" x2="163.5" y2="469.1" stroke="#6a6a6a" stroke-width="0.8"/>
<line x1="181.1" y1="467.7" x2="181.1" y2="469.1" stroke="#6a6a6a" stroke-width="0.8"/>
<line x1="198.7" y1="467.7" x2="198.7" y2="469.1" stroke="#6a6a6a" stroke-width="0.8"/>
<line x1="216.3" y1="467.7" x2="216.3" y2="470.3" stroke="#6a6a6a" stroke-width="0.8"/>
<text class="s" x="216.6" y="477" text-anchor="middle">300</text>
<line x1="233.9" y1="467.7" x2="233.9" y2="469.1" stroke="#6a6a6a" stroke-width="0.8"/>
<line x1="251.5" y1="467.7" x2="251.5" y2="469.1" stroke="#6a6a6a" stroke-width="0.8"/>
<line x1="269.1" y1="467.7" x2="269.1" y2="469.1" stroke="#6a6a6a" stroke-width="0.8"/>
<line x1="286.7" y1="467.7" x2="286.7" y2="469.1" stroke="#6a6a6a" stroke-width="0.8"/>
<line x1="304.3" y1="467.7" x2="304.3" y2="470.3" stroke="#6a6a6a" stroke-width="0.8"/>
<text class="s" x="304.6" y="477" text-anchor="middle">400</text>
<line x1="321.9" y1="467.7" x2="321.9" y2="469.1" stroke="#6a6a6a" stroke-width="0.8"/>
<line x1="339.5" y1="467.7" x2="339.5" y2="469.1" stroke="#6a6a6a" stroke-width="0.8"/>
<line x1="357.1" y1="467.7" x2="357.1" y2="469.1" stroke="#6a6a6a" stroke-width="0.8"/>
<line x1="374.7" y1="467.7" x2="374.7" y2="469.1" stroke="#6a6a6a" stroke-width="0.8"/>
<line x1="392.3" y1="467.7" x2="392.3" y2="470.3" stroke="#6a6a6a" stroke-width="0.8"/>
<text class="s" x="392.6" y="477" text-anchor="middle">500</text>
<line x1="409.9" y1="467.7" x2="409.9" y2="469.1" stroke="#6a6a6a" stroke-width="0.8"/>
<line x1="427.5" y1="467.7" x2="427.5" y2="469.1" stroke="#6a6a6a" stroke-width="0.8"/>
<line x1="445.1" y1="467.7" x2="445.1" y2="469.1" stroke="#6a6a6a" stroke-width="0.8"/>
<line x1="462.7" y1="467.7" x2="462.7" y2="469.1" stroke="#6a6a6a" stroke-width="0.8"/>
<line x1="480.3" y1="467.7" x2="480.3" y2="470.3" stroke="#6a6a6a" stroke-width="0.8"/>
<text class="s" x="480.6" y="477" text-anchor="middle">600</text>
<line x1="497.9" y1="467.7" x2="497.9" y2="469.1" stroke="#6a6a6a" stroke-width="0.8"/>
<line x1="515.5" y1="467.7" x2="515.5" y2="469.1" stroke="#6a6a6a" stroke-width="0.8"/>
<line x1="533.1" y1="467.7" x2="533.1" y2="469.1" stroke="#6a6a6a" stroke-width="0.8"/>
<line x1="550.7" y1="467.7" x2="550.7" y2="469.1" stroke="#6a6a6a" stroke-width="0.8"/>
<line x1="568.3" y1="467.7" x2="568.3" y2="470.3" stroke="#6a6a6a" stroke-width="0.8"/>
<text class="s" x="568.6" y="477" text-anchor="middle">700</text>
<line x1="585.9" y1="467.7" x2="585.9" y2="469.1" stroke="#6a6a6a" stroke-width="0.8"/>
<line x1="603.5" y1="467.7" x2="603.5" y2="469.1" stroke="#6a6a6a" stroke-width="0.8"/>
<line x1="621.1" y1="467.7" x2="621.1" y2="469.1" stroke="#6a6a6a" stroke-width="0.8"/>
<line x1="638.7" y1="467.7" x2="638.7" y2="469.1" stroke="#6a6a6a" stroke-width="0.8"/>
<line x1="656.3" y1="467.7" x2="656.3" y2="470.3" stroke="#6a6a6a" stroke-width="0.8"/>
<text class="s" x="656.6" y="477" text-anchor="middle">800</text>
<line x1="673.9" y1="467.7" x2="673.9" y2="469.1" stroke="#6a6a6a" stroke-width="0.8"/>
<line x1="691.5" y1="467.7" x2="691.5" y2="469.1" stroke="#6a6a6a" stroke-width="0.8"/>
<text class="s" style="font-size:5.6px" x="365" y="484.9" text-anchor="middle">m/z</text>
<text class="s" style="font-size:5.4px" transform="translate(13.9,348.9) rotate(-90)" text-anchor="middle">Intensity [counts] (10^3)</text>
<line x1="79.4" y1="392.2" x2="66" y2="396.5" stroke="#e04a5a" stroke-width="0.55" stroke-dasharray="2.6 1.3"/>
<line x1="90.5" y1="417.5" x2="90.5" y2="443.7" stroke="#e04a5a" stroke-width="0.55"/>
<line x1="60.9" y1="447.2" x2="68.8" y2="455.6" stroke="#4848c8" stroke-width="0.55"/>
<line x1="79.4" y1="451.3" x2="74.2" y2="463.6" stroke="#4848c8" stroke-width="0.55" stroke-dasharray="2.6 1.3"/>
<line x1="76.3" y1="461" x2="73.9" y2="463" stroke="#e04a5a" stroke-width="0.55"/>
<line x1="97.9" y1="459.5" x2="105.1" y2="463.8" stroke="#e04a5a" stroke-width="0.55" stroke-dasharray="2.6 1.3"/>
<line x1="114.4" y1="446.1" x2="104.8" y2="465" stroke="#e04a5a" stroke-width="0.55" stroke-dasharray="2.6 1.3"/>
<line x1="149.5" y1="420" x2="175" y2="455.6" stroke="#4848c8" stroke-width="0.55" stroke-dasharray="2.6 1.3"/>
<line x1="227" y1="430.3" x2="251.7" y2="466" stroke="#e04a5a" stroke-width="0.55" stroke-dasharray="2.6 1.3"/>
<line x1="216.3" y1="449.5" x2="203.2" y2="453" stroke="#e04a5a" stroke-width="0.55"/>
<line x1="229.5" y1="461.5" x2="223.7" y2="466" stroke="#4848c8" stroke-width="0.55" stroke-dasharray="2.6 1.3"/>
<line x1="302.9" y1="428.5" x2="291" y2="455.8" stroke="#4848c8" stroke-width="0.55" stroke-dasharray="2.6 1.3"/>
<line x1="302.9" y1="451.2" x2="291" y2="455" stroke="#e04a5a" stroke-width="0.55" stroke-dasharray="2.6 1.3"/>
<line x1="340.7" y1="430.3" x2="314.7" y2="466" stroke="#e04a5a" stroke-width="0.55" stroke-dasharray="2.6 1.3"/>
<line x1="680" y1="460.5" x2="693.5" y2="465.5" stroke="#e04a5a" stroke-width="0.55" stroke-dasharray="2.6 1.3"/>
<text class="f" x="50.6" y="246.4" fill="#e04a5a" stroke="#e04a5a" text-anchor="middle"><tspan>a</tspan><tspan dy="1" font-size="4.1">1</tspan><tspan dy="-3.4" font-size="4.1">+</tspan><tspan dy="2.4">-NH</tspan><tspan dy="1" font-size="4.1">3</tspan></text>
<text x="50.6" y="254.8" fill="#e04a5a" stroke="#e04a5a" text-anchor="middle">112.08726</text>
<text class="f" x="79.2" y="381.6" fill="#e04a5a" stroke="#e04a5a" text-anchor="middle"><tspan>a</tspan><tspan dy="1" font-size="4.1">2</tspan><tspan dy="-3.4" font-size="4.1">2+</tspan><tspan dy="2.4">, a</tspan><tspan dy="1" font-size="4.1">1</tspan><tspan dy="-3.4" font-size="4.1">+</tspan></text>
<text x="79.2" y="390" fill="#e04a5a" stroke="#e04a5a" text-anchor="middle">129.10245</text>
<text class="f" x="90.3" y="406.9" fill="#e04a5a" stroke="#e04a5a" text-anchor="middle"><tspan>b</tspan><tspan dy="1" font-size="4.1">1</tspan><tspan dy="-3.4" font-size="4.1">+</tspan></text>
<text x="90.3" y="415.3" fill="#e04a5a" stroke="#e04a5a" text-anchor="middle">157.10843</text>
<text class="f" x="89.4" y="429.9" fill="#4848c8" stroke="#4848c8" text-anchor="middle"><tspan>z</tspan><tspan dy="-0.7" font-size="4.1">+</tspan><tspan dy="0.7">2</tspan><tspan dy="1" font-size="4.1">4</tspan><tspan dy="-3.4" font-size="4.1">3+</tspan></text>
<text x="89.4" y="438.3" fill="#4848c8" stroke="#4848c8" text-anchor="middle">156.07692</text>
<text class="f" x="58.5" y="445.1" fill="#4848c8" stroke="#4848c8" text-anchor="middle"><tspan>y</tspan><tspan dy="1" font-size="4.1">1</tspan></text>
<text class="f" x="81.2" y="449.2" fill="#4848c8" stroke="#4848c8" text-anchor="middle"><tspan>x</tspan><tspan dy="1" font-size="4.1">3</tspan><tspan dy="-3.4" font-size="4.1">3</tspan></text>
<text class="f" x="77.6" y="458.9" fill="#e04a5a" stroke="#e04a5a" text-anchor="middle"><tspan>b</tspan><tspan dy="1" font-size="4.1">2</tspan><tspan dy="-3.4" font-size="4.1">2</tspan></text>
<text class="f" x="95.3" y="457.4" fill="#e04a5a" stroke="#e04a5a" text-anchor="middle"><tspan>c</tspan><tspan dy="1" font-size="4.1">1</tspan></text>
<text class="f" x="109.8" y="452.3" fill="#e04a5a" stroke="#e04a5a" text-anchor="middle"><tspan>a</tspan><tspan dy="1" font-size="4.1">3</tspan><tspan dy="-3.4" font-size="4.1">2</tspan></text>
<text class="f" x="115.9" y="443" fill="#e04a5a" stroke="#e04a5a" text-anchor="middle"><tspan>c</tspan><tspan dy="-0.7" font-size="4.1">-</tspan><tspan dy="0.7">1</tspan><tspan dy="1" font-size="4.1">3</tspan></text>
<text class="f" x="127.7" y="458.3" fill="#e04a5a" stroke="#e04a5a" text-anchor="middle"><tspan>c</tspan><tspan dy="-0.7" font-size="4.1">-</tspan><tspan dy="0.7">1</tspan><tspan dy="1" font-size="4.1">3</tspan><tspan dy="-3.4" font-size="4.1">3</tspan></text>
<text class="f" x="148" y="408.7" fill="#4848c8" stroke="#4848c8" text-anchor="middle"><tspan>y</tspan><tspan dy="1" font-size="4.1">2</tspan><tspan dy="-3.4" font-size="4.1">+</tspan><tspan dy="2.4">-NH</tspan><tspan dy="1" font-size="4.1">3</tspan></text>
<text x="148" y="417.1" fill="#4848c8" stroke="#4848c8" text-anchor="middle">253.09334</text>
<text class="f" x="189.7" y="405" fill="#4848c8" stroke="#4848c8" text-anchor="middle"><tspan>y</tspan><tspan dy="1" font-size="4.1">2</tspan><tspan dy="-3.4" font-size="4.1">+</tspan></text>
<text x="189.7" y="413.4" fill="#4848c8" stroke="#4848c8" text-anchor="middle">270.11987</text>
<text class="f" x="151.5" y="437.2" fill="#e04a5a" stroke="#e04a5a" text-anchor="middle"><tspan>a</tspan><tspan dy="1" font-size="4.1">4</tspan><tspan dy="-3.4" font-size="4.1">2+</tspan></text>
<text x="151.5" y="445.6" fill="#e04a5a" stroke="#e04a5a" text-anchor="middle">227.16882</text>
<text class="f" x="164" y="457.4" fill="#4848c8" stroke="#4848c8" text-anchor="middle"><tspan>y</tspan><tspan dy="1" font-size="4.1">4</tspan><tspan dy="-3.4" font-size="4.1">2</tspan></text>
<text class="f" x="196.6" y="457.8" fill="#e04a5a" stroke="#e04a5a" text-anchor="middle"><tspan>a</tspan><tspan dy="1" font-size="4.1">5</tspan><tspan dy="-3.4" font-size="4.1">2</tspan></text>
<text class="f" x="223.9" y="418.6" fill="#e04a5a" stroke="#e04a5a" text-anchor="middle"><tspan>a</tspan><tspan dy="1" font-size="4.1">3</tspan><tspan dy="-3.4" font-size="4.1">+</tspan><tspan dy="2.4">-NH</tspan><tspan dy="1" font-size="4.1">3</tspan></text>
<text x="223.9" y="427" fill="#e04a5a" stroke="#e04a5a" text-anchor="middle">339.25012</text>
<text class="f" x="216.2" y="437.9" fill="#e04a5a" stroke="#e04a5a" text-anchor="middle"><tspan>b</tspan><tspan dy="1" font-size="4.1">2</tspan><tspan dy="-3.4" font-size="4.1">+</tspan></text>
<text x="216.2" y="446.3" fill="#e04a5a" stroke="#e04a5a" text-anchor="middle">285.20370</text>
<text class="f" x="230.7" y="459.1" fill="#4848c8" stroke="#4848c8" text-anchor="middle"><tspan>z</tspan><tspan dy="-0.7" font-size="4.1">+</tspan><tspan dy="0.7">2</tspan><tspan dy="1" font-size="4.1">8</tspan><tspan dy="-3.4" font-size="4.1">3</tspan></text>
<text class="f" x="265.7" y="426.3" fill="#e04a5a" stroke="#e04a5a" text-anchor="middle"><tspan>a</tspan><tspan dy="1" font-size="4.1">3</tspan><tspan dy="-3.4" font-size="4.1">+</tspan></text>
<text x="265.7" y="434.7" fill="#e04a5a" stroke="#e04a5a" text-anchor="middle">356.27759</text>
<text class="f" x="303.2" y="417" fill="#4848c8" stroke="#4848c8" text-anchor="middle"><tspan>y</tspan><tspan dy="1" font-size="4.1">3</tspan><tspan dy="-3.4" font-size="4.1">+</tspan><tspan dy="2.4">, z</tspan><tspan dy="1" font-size="4.1">11</tspan><tspan dy="-3.4" font-size="4.1">3+</tspan></text>
<text x="303.2" y="425.4" fill="#4848c8" stroke="#4848c8" text-anchor="middle">383.20416</text>
<text class="f" x="303.7" y="439.5" fill="#e04a5a" stroke="#e04a5a" text-anchor="middle"><tspan>b</tspan><tspan dy="1" font-size="4.1">3</tspan><tspan dy="-3.4" font-size="4.1">+</tspan></text>
<text x="303.7" y="447.9" fill="#e04a5a" stroke="#e04a5a" text-anchor="middle">384.27322</text>
<text class="f" x="341.2" y="418.1" fill="#e04a5a" stroke="#e04a5a" text-anchor="middle"><tspan>b</tspan><tspan dy="1" font-size="4.1">8</tspan><tspan dy="-3.4" font-size="4.1">2+</tspan><tspan dy="2.4">-H</tspan><tspan dy="1" font-size="4.1">2</tspan><tspan dy="-1">O</tspan></text>
<text x="341.2" y="426.5" fill="#e04a5a" stroke="#e04a5a" text-anchor="middle">411.73154</text>
<text class="f" x="374.6" y="444.2" fill="#4848c8" stroke="#4848c8" text-anchor="middle"><tspan>y</tspan><tspan dy="1" font-size="4.1">4</tspan><tspan dy="-3.4" font-size="4.1">+</tspan></text>
<text x="374.6" y="452.6" fill="#4848c8" stroke="#4848c8" text-anchor="middle">480.25711</text>
<text class="f" x="449" y="449.6" fill="#e04a5a" stroke="#e04a5a" text-anchor="middle"><tspan>b</tspan><tspan dy="1" font-size="4.1">5</tspan><tspan dy="-3.4" font-size="4.1">+</tspan><tspan dy="2.4">-H</tspan><tspan dy="1" font-size="4.1">2</tspan><tspan dy="-1">O</tspan></text>
<text x="449" y="458" fill="#e04a5a" stroke="#e04a5a" text-anchor="middle">564.36047</text>
<text class="f" x="567.3" y="449.4" fill="#e04a5a" stroke="#e04a5a" text-anchor="middle"><tspan>a</tspan><tspan dy="1" font-size="4.1">7</tspan><tspan dy="-3.4" font-size="4.1">+</tspan></text>
<text x="567.3" y="457.8" fill="#e04a5a" stroke="#e04a5a" text-anchor="middle">698.42712</text>
<text class="f" x="678.3" y="449.4" fill="#e04a5a" stroke="#e04a5a" text-anchor="middle"><tspan>b</tspan><tspan dy="1" font-size="4.1">8</tspan><tspan dy="-3.4" font-size="4.1">+</tspan></text>
<text x="678.3" y="457.8" fill="#e04a5a" stroke="#e04a5a" text-anchor="middle">840.46490</text>
<text class="b" x="0.9" y="241.6">B</text>
<text class="t" x="682.8" y="261.2" text-anchor="end">RKVPTGSNPLHN</text>
<text class="t" x="682.8" y="280.3" text-anchor="end">MtCLE17</text>
</g>
</g>
</svg></body></html>
